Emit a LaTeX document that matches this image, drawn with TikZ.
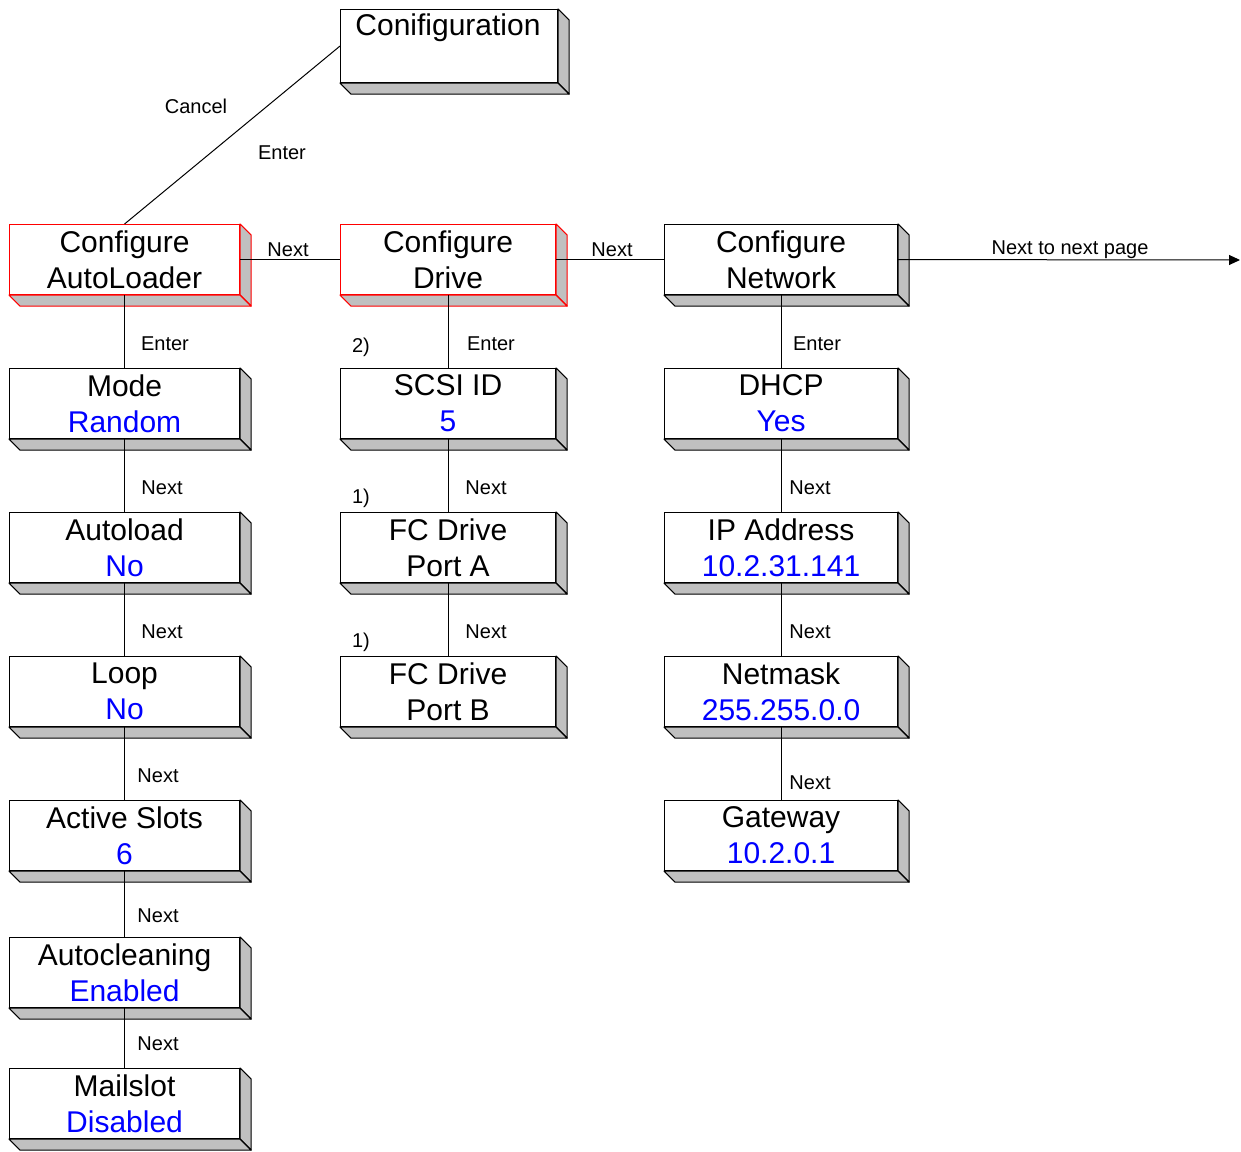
\documentclass[tikz,border=0pt]{standalone}
\usepackage{fontspec}
\setmainfont{Liberation Sans}
\usetikzlibrary{arrows.meta}
\definecolor{sidegray}{RGB}{192,192,192}
\definecolor{valblue}{RGB}{0,0,255}
\newcommand\boxside[2]{%
  \filldraw[fill=sidegray, draw=#2, line width=1.1pt, line join=round] (#1.north east) -- ++(11,11) -- ([shift={(11,11)}]#1.south east) -- (#1.south east) -- cycle;
  \filldraw[fill=sidegray, draw=#2, line width=1.1pt, line join=round] (#1.south west) -- ++(11,11) -- ([shift={(11,11)}]#1.south east) -- (#1.south east) -- cycle;}
\newcommand\val[1]{\textcolor{valblue}{#1}}
\begin{document}
\begin{tikzpicture}[x=1pt,y=-1pt,
  box/.style={draw, fill=white, line width=1.1pt, minimum height=70pt, inner sep=0pt, anchor=north west, align=center, font=\fontsize{30}{36}\selectfont},
  wl/.style={box, minimum width=230pt},
  wm/.style={box, minimum width=215pt},
  wr/.style={box, minimum width=233pt},
  lbl/.style={font=\fontsize{20}{24}\selectfont, inner sep=0pt},
  conn/.style={line width=1pt}]
\useasboundingbox (0,0) rectangle (1241,1151);
% top box
\node[box, minimum width=217pt, minimum height=73pt] (conf) at (340,9) {};
\boxside{conf}{black}
\node[font=\fontsize{30}{36}\selectfont, inner sep=0pt] (conft) at (448,27.5) {Conifiguration};
% row 1
\node[wl, draw=red] (al) at (9,224) {Configure\\AutoLoader};
\node[wm, draw=red] (dr) at (340,224) {Configure\\Drive};
\node[wr] (nw) at (664,224) {Configure\\Network};
\boxside{al}{red}\boxside{dr}{red}\boxside{nw}{black}
% left column
\node[wl] (mode) at (9,368) {Mode\\\val{Random}};
\node[wl] (aload) at (9,512) {Autoload\\\val{No}};
\node[wl] (loop) at (9,656) {Loop\\\val{No}};
\node[wl] (slots) at (9,800) {Active Slots\\\val{6}};
\node[wl] (aclean) at (9,937) {Autocleaning\\\val{Enabled}};
\node[wl] (mail) at (9,1068) {Mailslot\\\val{Disabled}};
\boxside{mode}{black}\boxside{aload}{black}\boxside{loop}{black}
\boxside{slots}{black}\boxside{aclean}{black}\boxside{mail}{black}
% middle column
\node[wm] (scsi) at (340,368) {SCSI ID\\\val{5}};
\node[wm] (pa) at (340,512) {FC Drive\\Port A};
\node[wm] (pb) at (340,656) {FC Drive\\Port B};
\boxside{scsi}{black}\boxside{pa}{black}\boxside{pb}{black}
% right column
\node[wr] (dhcp) at (664,368) {DHCP\\\val{Yes}};
\node[wr] (ip) at (664,512) {IP Address\\\val{10.2.31.141}};
\node[wr] (mask) at (664,656) {Netmask\\\val{255.255.0.0}};
\node[wr] (gw) at (664,800) {Gateway\\\val{10.2.0.1}};
\boxside{dhcp}{black}\boxside{ip}{black}\boxside{mask}{black}\boxside{gw}{black}
% connectors
\draw[conn] (conf.west) -- (al.north);
\draw[conn] (al.east) -- (dr.west);
\draw[conn] (dr.east) -- (nw.west);
\coordinate (nextpage) at (1240,260);
\draw[conn, -{Triangle[length=11pt,width=10pt]}] (nw.east) -- (nextpage);
\foreach \a/\b in {al/mode, mode/aload, aload/loop, loop/slots, slots/aclean, aclean/mail,
  dr/scsi, scsi/pa, pa/pb, nw/dhcp, dhcp/ip, ip/mask, mask/gw}
  \draw[conn] (\a.south) -- (\b.north);
% labels
\node[lbl] (l1) at (196,106) {Cancel};
\node[lbl] (l2) at (282,153) {Enter};
\node[lbl] (l3) at (288,250) {Next};
\node[lbl] (l4) at (612,250) {Next};
\node[lbl] (l5) at (1070,250) {Next to next page};
\node[lbl] (l6) at (165,344) {Enter};
\node[lbl] (l7) at (162,488) {Next};
\node[lbl] (l8) at (162,632) {Next};
\node[lbl] (l9) at (158,776) {Next};
\node[lbl] (l10) at (158,916) {Next};
\node[lbl] (l11) at (158,1044) {Next};
\node[lbl] (l12) at (361,347) {2)};
\node[lbl] (l13) at (491,344) {Enter};
\node[lbl] (l14) at (361,498) {1)};
\node[lbl] (l15) at (486,488) {Next};
\node[lbl] (l16) at (361,642) {1)};
\node[lbl] (l17) at (486,632) {Next};
\node[lbl] (l18) at (817,344) {Enter};
\node[lbl] (l19) at (810,488) {Next};
\node[lbl] (l20) at (810,632) {Next};
\node[lbl] (l21) at (810,783) {Next};
\end{tikzpicture}
\end{document}
